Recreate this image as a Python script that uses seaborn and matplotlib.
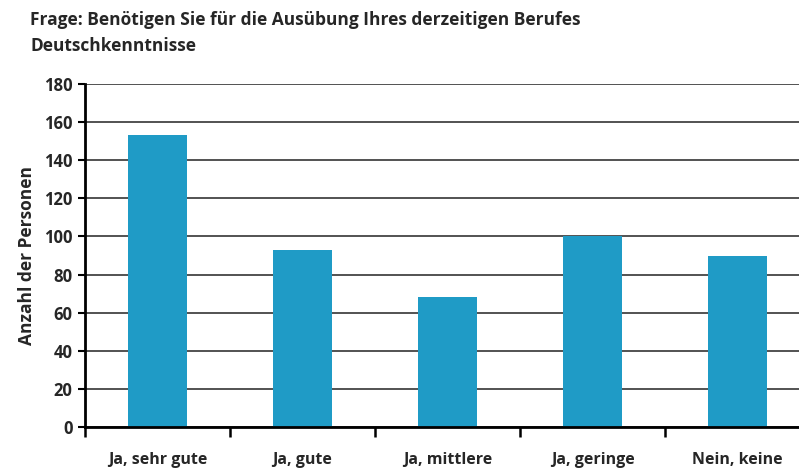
import matplotlib
matplotlib.use("Agg")
import matplotlib.pyplot as plt
import seaborn as sns
import pandas as pd
import numpy as np

categories = ["Ja, sehr gute", "Ja, gute", "Ja, mittlere", "Ja, geringe", "Nein, keine"]
values = [153, 93, 68, 100, 90]
yticks = [0, 20, 40, 60, 80, 100, 120, 140, 160, 180]
title = "Frage: Benötigen Sie für die Ausübung Ihres derzeitigen Berufes\nDeutschkenntnisse"
ylabel = "Anzahl der Personen"

sns.set_style("white")
plt.rcParams['font.family'] = ['Open Sans', 'DejaVu Sans']

df = pd.DataFrame({"cat": categories, "val": values})

fig = plt.figure(figsize=(7.99, 4.72), dpi=100)
ax = fig.add_axes([85/799, 1 - 427/472, 1 - 85/799, (427 - 84)/472])

sns.barplot(data=df, x="cat", y="val", color="#1f9bc6", width=0.41, ax=ax,
            saturation=1, linewidth=0, edgecolor="none", zorder=3)

ax.set_ylim(0, 180)
ax.set_yticks(yticks)
ax.yaxis.grid(True, color="#444444", linewidth=1.3, zorder=0)
ax.set_axisbelow(True)

for s in ["top", "right"]:
    ax.spines[s].set_visible(False)
for s in ["left", "bottom"]:
    ax.spines[s].set_color("black")
    ax.spines[s].set_linewidth(2)
    ax.spines[s].set_zorder(4)

ax.tick_params(axis="y", which="major", left=True, length=5, width=1.5, color="black",
               labelsize=12, pad=4)
ax.set_xticks(np.arange(len(categories)))
ax.set_xticklabels(categories)
ax.set_xticks(np.arange(len(categories) + 1) - 0.5, minor=True)
ax.set_xlim(-0.5, -0.5 + 714/145)
ax.tick_params(axis="x", which="major", bottom=False, length=0, labelsize=11.5, pad=18)
ax.tick_params(axis="x", which="minor", bottom=True, length=7, width=1.8, color="black")
for lab in ax.get_xticklabels() + ax.get_yticklabels():
    lab.set_fontweight("bold")

ax.set_xlabel("")
ax.set_ylabel(ylabel, fontsize=12.5, fontweight="bold", labelpad=6)

fig.text(30/799, 1 - 11/472, title, ha="left", va="top", fontsize=12.5,
         fontweight="bold", linespacing=1.6)

fig.savefig("out.png", dpi=100)
